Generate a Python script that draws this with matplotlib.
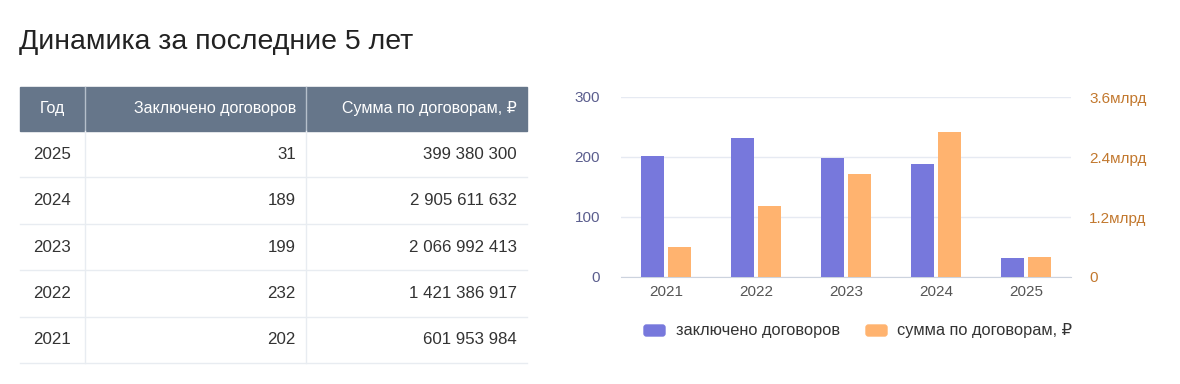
import numpy as np
import matplotlib
matplotlib.use('Agg')
import matplotlib.pyplot as plt
from matplotlib.patches import Rectangle, FancyBboxPatch

plt.rcParams['font.family'] = ['Liberation Sans', 'DejaVu Sans']

# === Дані ===
title = 'Динамика за последние 5 лет'
headers = ['Год', 'Заключено договоров', 'Сумма по договорам, ₽']
years = [2025, 2024, 2023, 2022, 2021]
contracts = [31, 189, 199, 232, 202]
sums = [399380300, 2905611632, 2066992413, 1421386917, 601953984]
y_ticks_left = [0, 100, 200, 300]
y_ticks_right = [0, 1.2e9, 2.4e9, 3.6e9]
right_labels = ['0', '1.2млрд', '2.4млрд', '3.6млрд']
legend_labels = ['заключено договоров', 'сумма по договорам, ₽']

c_purple = '#7778DC'
c_orange = '#FFB36F'
c_header = '#66768A'
c_text = '#333333'

W, H = 1180, 384
fig = plt.figure(figsize=(W / 100, H / 100), dpi=100)

# === Заголовок і таблиця (в пікселях) ===
bg = fig.add_axes([0, 0, 1, 1])
bg.set_xlim(0, W)
bg.set_ylim(H, 0)
bg.axis('off')

bg.text(19, 42, title, fontsize=20.5, color='#222222', va='center', ha='left')

x0, x1, x2, x3 = 20, 85, 306, 527
hy0, hy1 = 87, 131
row_h = 46.4
bg.add_patch(Rectangle((x0, hy0), x3 - x0, hy1 - hy0, color=c_header, zorder=1))
for xs in (x1, x2):
    bg.plot([xs, xs], [hy0, hy1], color='#B5BFCB', lw=1, zorder=2)
bg.text((x0 + x1) / 2, (hy0 + hy1) / 2, headers[0], color='white', fontsize=11.5,
        ha='center', va='center')
bg.text(x2 - 10, (hy0 + hy1) / 2, headers[1], color='white', fontsize=11.5,
        ha='right', va='center')
bg.text(x3 - 10, (hy0 + hy1) / 2, headers[2], color='white', fontsize=11.5,
        ha='right', va='center')

for i, (yr, cnt, sm) in enumerate(zip(years, contracts, sums)):
    top = hy1 + i * row_h
    cy = top + row_h / 2
    bg.text(33, cy, str(yr), color=c_text, fontsize=12.2, ha='left', va='center')
    bg.text(x2 - 10, cy, str(cnt), color=c_text, fontsize=12.2, ha='right', va='center')
    bg.text(x3 - 10, cy, f'{sm:,}'.replace(',', ' '), color=c_text, fontsize=12.2,
            ha='right', va='center')
    bg.plot([x0, x3], [top + row_h, top + row_h], color='#E8ECF1', lw=1)
for xs in (x1, x2):
    bg.plot([xs, xs], [hy1, hy1 + 5 * row_h], color='#E8ECF1', lw=1)

# === Графік ===
ax = fig.add_axes([621 / W, 1 - 277 / H, 450 / W, 180 / H])
ax2 = ax.twinx()
cats = sorted(years)
cnt_by_year = dict(zip(years, contracts))
sum_by_year = dict(zip(years, sums))
x = np.arange(len(cats))
bw = 0.245

ax.bar(x - 0.15, [cnt_by_year[y] for y in cats], width=bw, color=c_purple, zorder=3)
ax2.bar(x + 0.15, [sum_by_year[y] for y in cats], width=bw, color=c_orange, zorder=3)

ax.set_xlim(-0.5, len(cats) - 0.5)
ax.set_ylim(0, 300)
ax2.set_ylim(0, 3.6e9)
ax.set_yticks(y_ticks_left)
ax2.set_yticks(y_ticks_right)
ax2.set_yticklabels(right_labels)
ax.set_xticks(x)
ax.set_xticklabels([str(c) for c in cats])
ax.grid(axis='y', color='#E6EAF2', lw=1, zorder=0)
ax.set_axisbelow(True)
for a in (ax, ax2):
    for s in a.spines.values():
        s.set_visible(False)
ax.spines['bottom'].set_visible(True)
ax.spines['bottom'].set_color('#CCD3DE')
ax.tick_params(axis='y', length=0, pad=15, labelsize=11, labelcolor='#5B5E8E')
ax.tick_params(axis='x', length=0, pad=6, labelsize=11, labelcolor='#555555')
ax2.tick_params(axis='y', length=0, pad=13, labelsize=11, labelcolor='#C2782E')

# Легенда
bg.add_patch(FancyBboxPatch((644, 325), 21, 11, boxstyle='round,pad=0,rounding_size=2.5',
                            color=c_purple))
bg.text(676, 331, legend_labels[0], fontsize=11.8, color=c_text, va='center')
bg.add_patch(FancyBboxPatch((866, 325), 21, 11, boxstyle='round,pad=0,rounding_size=2.5',
                            color=c_orange))
bg.text(897, 331, legend_labels[1], fontsize=11.8, color=c_text, va='center')

fig.savefig('out.png', dpi=100)
